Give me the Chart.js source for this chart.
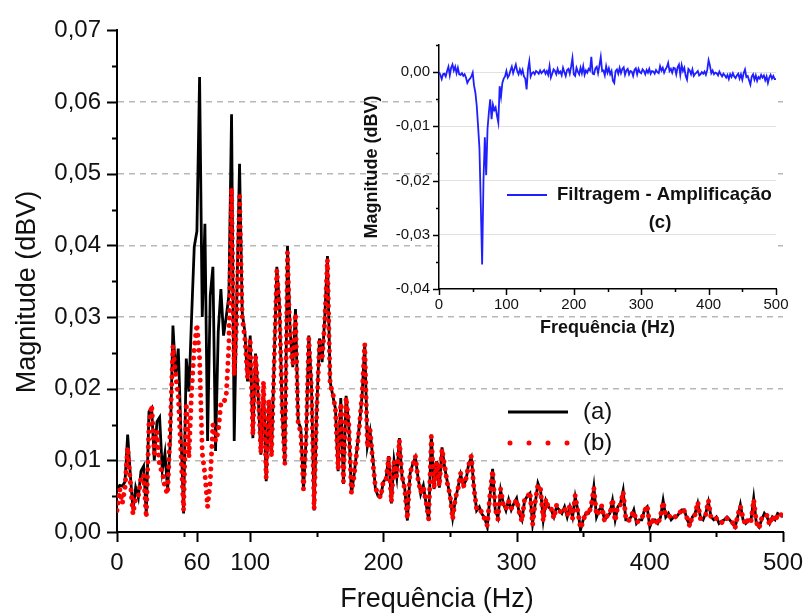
<!DOCTYPE html>
<html>
<head>
<meta charset="utf-8">
<script src="https://cdn.jsdelivr.net/npm/chart.js@4.4.1/dist/chart.umd.min.js"></script>
<style>
  body { margin: 0; background: #fff; }
  #wrap { position: relative; width: 803px; height: 615px; overflow: hidden; }
  #mainChart { position: absolute; left: 0; top: 0; }
  #insetChart { position: absolute; left: 340px; top: 25px; }
</style>
</head>
<body>
<div id="wrap">
  <canvas id="mainChart" width="803" height="615"></canvas>
  <canvas id="insetChart" width="450" height="320"></canvas>
</div>
<script>
// espectro amostrado a cada 2 Hz (0 a 500 Hz)
const FREQ_STEP = 2;

// (a) amplificação - linha preta
const magA = [
  .0058,.0065,.0064,.0070,.0136,.0080,.0030,.0062,.0048,.0085,
  .0092,.0025,.0168,.0173,.0100,.0154,.0160,.0086,.0110,.0058,
  .0127,.0288,.0219,.0256,.0140,.0026,.0242,.0196,.0300,.0398,
  .0420,.0635,.0300,.0430,.0127,.0330,.0370,.0113,.0279,.0339,
  .0274,.0300,.0330,.0583,.0127,.0330,.0514,.0306,.0279,.0210,
  .0274,.0131,.0249,.0190,.0108,.0205,.0071,.0180,.0110,.0240,
  .0370,.0316,.0168,.0094,.0399,.0280,.0230,.0311,.0154,.0145,
  .0058,.0130,.0274,.0205,.0030,.0173,.0270,.0237,.0300,.0385,
  .0210,.0190,.0172,.0085,.0187,.0067,.0190,.0150,.0053,.0080,
  .0113,.0150,.0190,.0263,.0120,.0140,.0105,.0060,.0050,.0050,
  .0070,.0075,.0106,.0040,.0100,.0076,.0131,.0076,.0062,.0016,
  .0081,.0095,.0104,.0076,.0053,.0065,.0040,.0016,.0136,.0060,
  .0099,.0062,.0118,.0090,.0070,.0050,.0020,.0045,.0062,.0080,
  .0065,.0072,.0095,.0104,.0062,.0030,.0035,.0025,.0020,.0007,
  .0050,.0088,.0030,.0020,.0058,.0040,.0030,.0045,.0031,.0040,
  .0047,.0026,.0017,.0044,.0050,.0054,.0012,.0040,.0068,.0058,
  .0017,.0044,.0035,.0031,.0021,.0035,.0031,.0026,.0035,.0021,
  .0035,.0021,.0049,.0030,.0003,.0017,.0026,.0026,.0035,.0063,
  .0021,.0031,.0035,.0017,.0021,.0026,.0044,.0017,.0035,.0040,
  .0058,.0017,.0017,.0021,.0031,.0012,.0017,.0017,.0031,.0035,
  .0007,.0017,.0017,.0012,.0020,.0044,.0021,.0026,.0017,.0021,
  .0021,.0026,.0031,.0031,.0017,.0010,.0021,.0026,.0040,.0021,
  .0017,.0026,.0042,.0021,.0017,.0021,.0012,.0015,.0017,.0021,
  .0017,.0012,.0007,.0021,.0038,.0017,.0012,.0017,.0017,.0047,
  .0012,.0007,.0017,.0026,.0021,.0012,.0021,.0017,.0026,.0024,
  .0021
];

// (b) filtragem - pontos vermelhos
const magB = [
  .0030,.0060,.0040,.0062,.0118,.0070,.0025,.0048,.0050,.0075,
  .0080,.0020,.0150,.0177,.0110,.0140,.0090,.0085,.0062,.0053,
  .0145,.0260,.0219,.0190,.0110,.0030,.0180,.0104,.0196,.0256,
  .0290,.0242,.0110,.0081,.0035,.0070,.0150,.0127,.0140,.0180,
  .0180,.0190,.0260,.0480,.0219,.0300,.0468,.0300,.0270,.0215,
  .0270,.0135,.0245,.0195,.0110,.0210,.0075,.0185,.0105,.0235,
  .0365,.0310,.0170,.0095,.0390,.0255,.0235,.0305,.0150,.0140,
  .0060,.0128,.0270,.0200,.0032,.0170,.0265,.0240,.0295,.0380,
  .0205,.0195,.0170,.0088,.0180,.0070,.0188,.0152,.0055,.0078,
  .0112,.0148,.0192,.0262,.0118,.0142,.0100,.0062,.0052,.0048,
  .0072,.0073,.0104,.0042,.0098,.0078,.0128,.0078,.0060,.0018,
  .0083,.0093,.0106,.0074,.0055,.0063,.0042,.0018,.0133,.0062,
  .0097,.0064,.0116,.0092,.0068,.0052,.0018,.0047,.0060,.0082,
  .0063,.0074,.0093,.0106,.0060,.0032,.0033,.0027,.0018,.0009,
  .0052,.0086,.0032,.0018,.0060,.0038,.0032,.0043,.0033,.0038,
  .0045,.0028,.0015,.0046,.0048,.0056,.0010,.0042,.0066,.0060,
  .0015,.0046,.0033,.0033,.0019,.0037,.0029,.0028,.0033,.0023,
  .0037,.0019,.0051,.0028,.0005,.0015,.0028,.0024,.0037,.0061,
  .0023,.0029,.0037,.0015,.0023,.0024,.0046,.0015,.0037,.0038,
  .0056,.0019,.0015,.0023,.0029,.0014,.0015,.0019,.0029,.0037,
  .0009,.0015,.0019,.0010,.0022,.0042,.0023,.0024,.0019,.0019,
  .0023,.0024,.0033,.0029,.0019,.0008,.0023,.0024,.0042,.0019,
  .0019,.0024,.0044,.0019,.0019,.0019,.0014,.0013,.0019,.0019,
  .0015,.0014,.0005,.0023,.0036,.0019,.0010,.0019,.0015,.0045,
  .0014,.0005,.0019,.0024,.0023,.0010,.0023,.0015,.0024,.0026,
  .0019
];

// (c) filtragem - amplificação (gráfico inserido)
const magC = [
  0.0000,-0.0005,-0.0013,-0.0004,-0.0003,-0.0008,0.0002,0.0010,-0.0006,0.0008,
  0.0014,0.0003,0.0010,-0.0002,0.0008,-0.0004,-0.0005,-0.0002,-0.0007,-0.0004,
  -0.0010,-0.0020,-0.0015,-0.0012,-0.0008,-0.0001,-0.0025,-0.0038,-0.0062,-0.0100,
  -0.0140,-0.0245,-0.0355,-0.0200,-0.0120,-0.0190,-0.0105,-0.0074,-0.0050,-0.0087,
  -0.0060,-0.0070,-0.0065,-0.0080,-0.0093,-0.0026,-0.0045,-0.0020,-0.0012,-0.0008,
  0.0002,-0.0010,-0.0006,0.0003,0.0010,-0.0002,0.0006,0.0014,0.0002,-0.0004,
  0.0005,-0.0003,0.0004,-0.0008,-0.0012,-0.0032,0.0005,0.0020,-0.0008,-0.0002,
  0.0000,-0.0004,0.0002,0.0000,-0.0003,0.0003,-0.0002,0.0001,0.0004,-0.0003,
  0.0002,-0.0005,0.0011,-0.0010,-0.0003,0.0005,0.0002,-0.0004,0.0006,-0.0002,
  0.0001,-0.0006,0.0008,0.0000,-0.0007,0.0004,0.0006,-0.0003,0.0010,0.0026,
  -0.0004,-0.0007,0.0008,0.0001,-0.0004,0.0008,-0.0002,0.0011,-0.0005,0.0003,
  -0.0001,0.0006,0.0003,0.0028,-0.0003,-0.0004,0.0007,0.0010,-0.0002,0.0012,
  0.0028,0.0002,0.0003,-0.0006,0.0011,-0.0001,0.0007,-0.0004,0.0002,-0.0016,
  -0.0020,0.0002,0.0005,-0.0003,0.0008,-0.0002,0.0006,0.0009,-0.0005,0.0003,
  0.0006,-0.0004,0.0002,0.0001,-0.0007,0.0004,0.0007,-0.0004,0.0006,0.0000,
  -0.0002,0.0005,0.0002,-0.0004,0.0004,-0.0001,0.0006,-0.0003,0.0002,0.0001,
  -0.0003,0.0004,0.0000,-0.0002,0.0011,0.0003,0.0008,-0.0001,0.0005,0.0009,
  0.0017,0.0002,0.0006,-0.0001,0.0008,0.0007,-0.0004,0.0009,0.0014,-0.0005,
  0.0013,0.0002,0.0008,-0.0007,-0.0014,0.0006,0.0003,-0.0004,0.0005,-0.0007,
  -0.0003,-0.0001,0.0002,-0.0006,-0.0004,0.0000,-0.0003,0.0001,-0.0005,0.0004,
  0.0022,0.0012,-0.0002,0.0003,-0.0004,-0.0001,-0.0002,-0.0006,0.0001,-0.0004,
  -0.0008,-0.0003,-0.0006,-0.0010,-0.0005,-0.0013,-0.0004,-0.0009,-0.0002,-0.0008,
  -0.0011,-0.0006,-0.0003,-0.0012,-0.0004,-0.0014,-0.0002,0.0005,-0.0009,-0.0007,
  -0.0015,-0.0023,-0.0008,-0.0004,-0.0014,-0.0006,-0.0016,-0.0009,-0.0012,-0.0005,
  -0.0010,-0.0006,-0.0015,-0.0008,-0.0020,-0.0010,-0.0005,-0.0012,-0.0007,-0.0013,
  -0.0013
];

// ticks
const mainXTicks = [0, 60, 100, 200, 300, 400, 500];
const mainXMinor = [50, 150, 250, 350, 450];
const mainYTicks = [0, 0.01, 0.02, 0.03, 0.04, 0.05, 0.06, 0.07];
const mainYMinor = [0.005, 0.015, 0.025, 0.035, 0.045, 0.055, 0.065];
const insetXTicks = [0, 100, 200, 300, 400, 500];
const insetXMinor = [50, 150, 250, 350, 450];
const insetYTicks = [-0.04, -0.03, -0.02, -0.01, 0];
const insetYMinor = [-0.035, -0.025, -0.015, -0.005, 0.005];

const xTitle = 'Frequência (Hz)';
const yTitle = 'Magnitude (dBV)';

const FONT = '"Liberation Sans", Arial, sans-serif';
const toPts = arr => arr.map((v, i) => ({ x: i * FREQ_STEP, y: v }));
const fmt = v => v.toFixed(2).replace('.', ',');

// tracinhos de escala (maiores e menores), desenhados pela escala do Chart.js
function tickMarks(chart, id, values, len, width) {
  const s = chart.scales[id], a = chart.chartArea, c = chart.ctx;
  c.save();
  c.strokeStyle = '#000';
  c.lineWidth = width;
  c.beginPath();
  values.forEach(v => {
    const p = Math.round(s.getPixelForValue(v)) + 0.5;
    if (s.isHorizontal()) { c.moveTo(p, a.bottom); c.lineTo(p, a.bottom + len); }
    else { c.moveTo(a.left, p); c.lineTo(a.left - len, p); }
  });
  c.stroke();
  c.restore();
}

const mainExtras = {
  id: 'mainExtras',
  afterDraw(chart) {
    tickMarks(chart, 'x', mainXTicks, 10, 2);
    tickMarks(chart, 'x', mainXMinor, 5, 2);
    tickMarks(chart, 'y', mainYTicks, 10, 2);
    tickMarks(chart, 'y', mainYMinor, 5, 2);
    const c = chart.ctx, ds = chart.data.datasets;
    c.save();
    // títulos dos eixos
    c.fillStyle = '#111';
    c.font = '27px ' + FONT;
    c.textAlign = 'center';
    c.textBaseline = 'middle';
    c.fillText(xTitle, 437, 600);
    c.save();
    c.translate(28, 292);
    c.rotate(-Math.PI / 2);
    c.fillText(yTitle, 0, 0);
    c.restore();
    // legenda
    c.textAlign = 'left';
    c.strokeStyle = '#000';
    c.lineWidth = 2.8;
    c.beginPath(); c.moveTo(508, 412); c.lineTo(568, 412); c.stroke();
    c.strokeStyle = '#ff0000';
    c.lineWidth = 5;
    c.lineCap = 'round';
    c.setLineDash([0.01, 19]);
    c.beginPath(); c.moveTo(510, 443); c.lineTo(570, 443); c.stroke();
    c.setLineDash([]);
    c.font = '24px ' + FONT;
    c.fillText(ds[0].label, 583, 412);
    c.fillText(ds[1].label, 583, 443);
    c.restore();
  }
};

new Chart(document.getElementById('mainChart'), {
  type: 'line',
  data: {
    datasets: [
      {
        label: '(a)',
        data: toPts(magA),
        borderColor: '#000',
        borderWidth: 2.8,
        pointRadius: 0,
        tension: 0,
        order: 2
      },
      {
        label: '(b)',
        data: toPts(magB),
        borderColor: '#ff0000',
        borderWidth: 5,
        borderCapStyle: 'round',
        borderDash: [0.01, 7.5],
        pointRadius: 0,
        tension: 0,
        order: 1
      }
    ]
  },
  options: {
    responsive: false,
    animation: false,
    devicePixelRatio: 1,
    layout: { padding: { top: 25, right: 20, left: 0, bottom: 0 } },
    plugins: { legend: { display: false }, tooltip: { enabled: false } },
    scales: {
      x: {
        type: 'linear',
        min: 0,
        max: 500,
        afterBuildTicks: s => { s.ticks = mainXTicks.map(v => ({ value: v })); },
        afterFit: s => { s.height = 83; s.paddingRight = 0; s.paddingLeft = 0; },
        grid: { display: false, drawTicks: false },
        border: { display: true, color: '#000', width: 2 },
        ticks: { font: { family: FONT, size: 24 }, color: '#111', padding: 17, maxRotation: 0, autoSkip: false },
        title: { display: false, text: xTitle }
      },
      y: {
        min: 0,
        max: 0.07,
        afterBuildTicks: s => { s.ticks = mainYTicks.map(v => ({ value: v })); },
        afterFit: s => { s.width = 117; },
        grid: {
          drawTicks: false,
          lineWidth: 1.5,
          color: ctx => {
            const k = Math.round(ctx.tick.value * 100);
            return (k > 0 && k < 7) ? '#b8b8b8' : 'rgba(0,0,0,0)';
          }
        },
        border: { display: true, color: '#000', width: 2, dash: [6, 5] },
        ticks: { font: { family: FONT, size: 24 }, color: '#111', padding: 16, callback: v => fmt(v) },
        title: { display: false, text: yTitle }
      }
    }
  },
  plugins: [mainExtras]
});

const insetExtras = {
  id: 'insetExtras',
  beforeDraw(chart) {
    const a = chart.chartArea, c = chart.ctx;
    c.save();
    c.fillStyle = '#fff';
    c.fillRect(a.left, a.top, a.right - a.left, a.bottom - a.top);
    c.restore();
  },
  afterDraw(chart) {
    tickMarks(chart, 'x', insetXTicks, 6, 1.5);
    tickMarks(chart, 'x', insetXMinor, 3, 1.5);
    tickMarks(chart, 'y', insetYTicks, 6, 1.5);
    tickMarks(chart, 'y', insetYMinor, 3, 1.5);
    const c = chart.ctx;
    c.save();
    c.strokeStyle = '#1e1eff';
    c.lineWidth = 2;
    c.beginPath(); c.moveTo(167, 170); c.lineTo(207, 170); c.stroke();
    c.fillStyle = '#111';
    c.font = 'bold 18.5px ' + FONT;
    c.textBaseline = 'middle';
    c.fillText(chart.data.datasets[0].label, 217, 170);
    c.textAlign = 'center';
    c.fillText('(c)', 320, 198);
    c.restore();
  }
};

new Chart(document.getElementById('insetChart'), {
  type: 'line',
  data: {
    datasets: [{
      label: 'Filtragem - Amplificação',
      data: toPts(magC),
      borderColor: '#1e1eff',
      borderWidth: 1.8,
      pointRadius: 0,
      tension: 0
    }]
  },
  options: {
    responsive: false,
    animation: false,
    devicePixelRatio: 1,
    layout: { padding: { top: 20, right: 14, left: 0, bottom: 0 } },
    plugins: { legend: { display: false }, tooltip: { enabled: false } },
    scales: {
      x: {
        type: 'linear',
        min: 0,
        max: 500,
        afterBuildTicks: s => { s.ticks = insetXTicks.map(v => ({ value: v })); },
        afterFit: s => { s.height = 56; s.paddingRight = 0; s.paddingLeft = 0; },
        grid: { display: false, drawTicks: false },
        border: { display: true, color: '#000', width: 1.5 },
        ticks: { font: { family: FONT, size: 15 }, color: '#111', padding: 7, maxRotation: 0, autoSkip: false },
        title: { display: true, text: xTitle, color: '#111', font: { family: FONT, size: 18, weight: 'bold' }, padding: { top: 0, bottom: 6 } }
      },
      y: {
        min: -0.04,
        max: 0.005,
        afterBuildTicks: s => { s.ticks = insetYTicks.map(v => ({ value: v })); },
        afterFit: s => { s.width = 99; },
        grid: {
          drawTicks: false,
          lineWidth: 1,
          color: ctx => Math.round(ctx.tick.value * 100) > -4 ? '#e2e2e2' : 'rgba(0,0,0,0)'
        },
        border: { display: true, color: '#000', width: 1.5 },
        ticks: { font: { family: FONT, size: 15 }, color: '#111', padding: 9, callback: v => fmt(v) },
        title: { display: true, text: yTitle, color: '#111', font: { family: FONT, size: 18, weight: 'bold' }, padding: { top: 21, bottom: 0 } }
      }
    }
  },
  plugins: [insetExtras]
});
</script>
</body>
</html>
